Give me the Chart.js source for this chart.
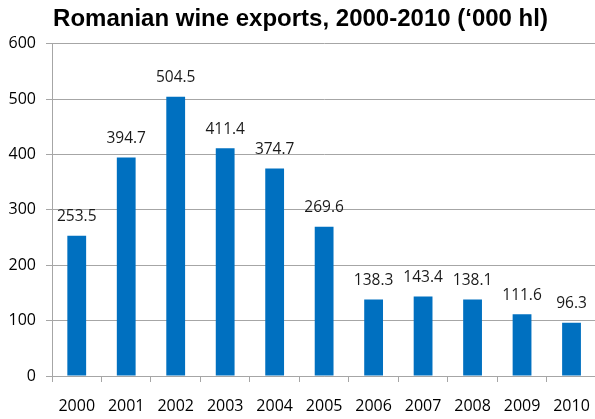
<!DOCTYPE html>
<html>
<head>
<meta charset="utf-8">
<script src="https://cdn.jsdelivr.net/npm/chart.js@4/dist/chart.umd.min.js"></script>
<style>
  html, body { margin: 0; padding: 0; background: #fff; overflow: hidden; }
  #wrap { width: 605px; height: 419px; position: relative; }
</style>
</head>
<body>
<div id="wrap"><canvas id="chart"></canvas></div>
<script>
// data
const years = ['2000', '2001', '2002', '2003', '2004', '2005', '2006', '2007', '2008', '2009', '2010'];
const exportsKhl = [253.5, 394.7, 504.5, 411.4, 374.7, 269.6, 138.3, 143.4, 138.1, 111.6, 96.3];
const yTicks = [0, 100, 200, 300, 400, 500, 600];

const labelFont = '"Open Sans", "DejaVu Sans", sans-serif';

// draws the value above each bar
const valueLabels = {
  id: 'valueLabels',
  afterDatasetsDraw(chart) {
    const ctx = chart.ctx;
    const meta = chart.getDatasetMeta(0);
    ctx.save();
    ctx.font = '15.5px ' + labelFont;
    ctx.fillStyle = '#1a1a1a';
    ctx.textAlign = 'center';
    ctx.textBaseline = 'middle';
    meta.data.forEach((bar, i) => {
      ctx.fillText(exportsKhl[i].toFixed(1), bar.x, bar.y - 19);
    });
    ctx.restore();
  }
};

new Chart(document.getElementById('chart'), {
  type: 'bar',
  data: {
    labels: years,
    datasets: [{
      data: exportsKhl,
      backgroundColor: '#0070C0',
      borderWidth: 0,
      barPercentage: 0.76,
      categoryPercentage: 0.5
    }]
  },
  options: {
    responsive: true,
    maintainAspectRatio: false,
    animation: false,
    layout: { padding: { left: 0, right: 4, top: 0, bottom: 0 } },
    plugins: {
      legend: { display: false },
      tooltip: { enabled: false },
      title: {
        display: true,
        text: 'Romanian wine exports, 2000-2010 (\u2018000 hl)',
        color: '#000',
        font: { family: '"Liberation Sans", Arial, sans-serif', size: 24, weight: 'bold' },
        padding: { top: 5, bottom: 10 }
      }
    },
    scales: {
      x: {
        offset: true,
        grid: {
          offset: true,
          drawOnChartArea: false,
          drawTicks: true,
          tickLength: 6,
          color: '#a6a6a6'
        },
        border: { color: '#a6a6a6', width: 1 },
        ticks: {
          color: '#000',
          font: { family: labelFont, size: 16 },
          padding: 15,
          maxRotation: 0,
          autoSkip: false
        },
        afterFit(scale) { scale.height = 43; }
      },
      y: {
        min: 0,
        max: 600,
        afterBuildTicks(scale) { scale.ticks = yTicks.map(v => ({ value: v })); },
        grid: {
          color: '#a6a6a6',
          tickLength: 6,
          drawTicks: true
        },
        border: { color: '#a6a6a6', width: 1 },
        ticks: {
          color: '#000',
          font: { family: labelFont, size: 16 },
          padding: 10
        },
        afterFit(scale) { scale.width = 52; }
      }
    }
  },
  plugins: [valueLabels]
});
</script>
</body>
</html>
